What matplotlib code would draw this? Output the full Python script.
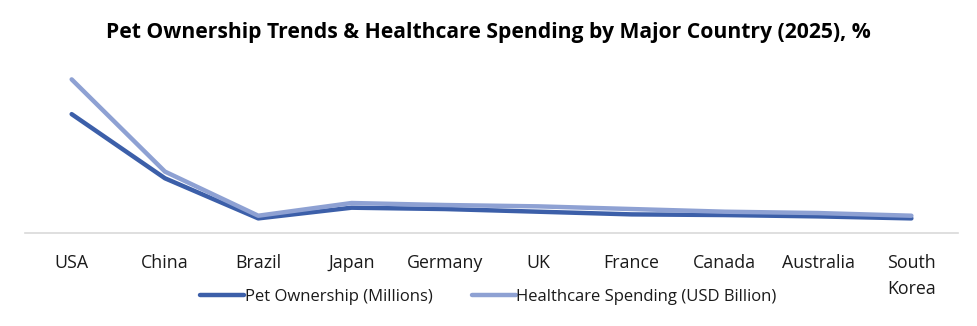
import matplotlib
matplotlib.use("Agg")
import matplotlib.pyplot as plt

countries = ["USA", "China", "Brazil", "Japan", "Germany", "UK", "France",
             "Canada", "Australia", "South\nKorea"]
pet_ownership = [89, 41, 11, 19, 18, 16, 14, 13.5, 12.5, 11]
healthcare_spending = [115, 46, 13, 22.5, 21, 20, 18, 16, 15, 13]

plt.rcParams['font.family'] = ['Open Sans', 'DejaVu Sans']

fig = plt.figure(figsize=(9.77, 3.26), dpi=100)
ax = fig.add_axes([0.0256, 0.285, 0.955, 0.574])

x = list(range(len(countries)))
ax.plot(x, pet_ownership, color="#3C5FA9", lw=3.2, solid_capstyle="round",
        solid_joinstyle="round", label="Pet Ownership (Millions)")
ax.plot(x, healthcare_spending, color="#8EA1D3", lw=3.2, solid_capstyle="round",
        solid_joinstyle="round", label="Healthcare Spending (USD Billion)")

ax.set_xlim(-0.5, len(countries) - 0.5)
ax.set_ylim(0, 140)
ax.set_yticks([])
for s in ["top", "right", "left"]:
    ax.spines[s].set_visible(False)
ax.spines["bottom"].set_color("#D9D9D9")
ax.spines["bottom"].set_linewidth(1.2)
ax.set_xticks(x)
ax.set_xticklabels(countries, fontsize=12.8, color="#1a1a1a", va="top",
                   linespacing=1.6)
ax.tick_params(axis="x", length=0, pad=15)

fig.text(0.5, 0.9, "Pet Ownership Trends & Healthcare Spending by Major Country (2025), %",
         ha="center", va="center", fontsize=15.2, fontweight="bold", color="black")

leg = fig.legend(loc="center", bbox_to_anchor=(0.5, 0.088), ncol=2, frameon=False,
                 fontsize=12, handlelength=2.6, handletextpad=0.05, columnspacing=2.4)
for t in leg.get_texts():
    t.set_color("#1a1a1a")

fig.savefig("out.png", dpi=100)
